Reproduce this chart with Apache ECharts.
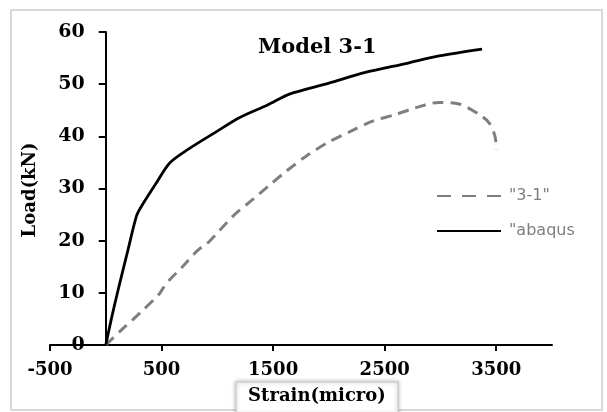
<!DOCTYPE html>
<html>
<head>
<meta charset="utf-8">
<script src="https://cdn.jsdelivr.net/npm/echarts@6/dist/echarts.min.js"></script>
<style>
  html, body { margin: 0; padding: 0; background: #fff; }
  #chart { width: 607px; height: 412px; }
</style>
</head>
<body>
<div id="chart"></div>
<script>
// Load–strain curves for Model 3-1: test measurement vs. Abaqus model
const titleText = 'Model 3-1';
const xAxisName = 'Strain(micro)';
const yAxisName = 'Load(kN)';
const seriesNames = ['"3-1"', '"abaqus'];

// test curve [strain, load]
const testStrain = [0, 141, 305, 484, 514, 573, 692, 812, 886, 931, 1140, 1318, 1460, 1617, 1796, 1990, 2198, 2392, 2601, 2780, 2988, 3167, 3346, 3436, 3489, 3501];
const testLoad   = [0, 2.9, 6.1, 9.9, 10.9, 12.5, 15.1, 17.9, 19.2, 19.9, 24.7, 27.9, 30.5, 33.3, 36.2, 38.8, 41.0, 42.9, 44.2, 45.5, 46.5, 46.2, 44.2, 42.6, 40.0, 37.5];

// Abaqus curve [strain, load]
const abaqusStrain = [0, 50, 111, 200, 275, 320, 454, 573, 737, 1000, 1201, 1450, 1646, 2000, 2318, 2700, 2989, 3373];
const abaqusLoad   = [0, 5.0, 10.6, 18.3, 24.7, 26.6, 31.1, 34.9, 37.5, 41.0, 43.6, 46.0, 48.1, 50.2, 52.2, 54.0, 55.4, 56.7];

const pairs = (xs, ys) => xs.map((x, i) => [x, ys[i]]);

const serif = '"DejaVu Serif", serif';
const X_MIN = -500, X_MAX = 4000;
const GRID_LEFT = 50, GRID_RIGHT = 55;
const chartWidth = 607;
// shift the load axis so it sits on strain = 0
const plotW = chartWidth - GRID_LEFT - GRID_RIGHT;
const yAxisShift = -plotW * (0 - X_MIN) / (X_MAX - X_MIN);

const chart = echarts.init(document.getElementById('chart'));

chart.setOption({
  backgroundColor: '#fff',
  animation: false,
  title: {
    text: titleText,
    left: 253, top: 32,
    textStyle: { fontFamily: serif, fontWeight: 'bold', fontSize: 21, color: '#000' }
  },
  legend: {
    orient: 'vertical',
    left: 431, top: 183,
    itemWidth: 64, itemHeight: 16, itemGap: 19,
    itemStyle: { opacity: 0 },
    textStyle: { fontFamily: '"DejaVu Sans", sans-serif', fontSize: 16, color: '#7f7f7f', padding: [0, 0, 0, 3] },
    data: [
      { name: seriesNames[0], lineStyle: { type: [14, 11] } },
      { name: seriesNames[1] }
    ]
  },
  grid: { left: GRID_LEFT, right: GRID_RIGHT, top: 32, bottom: 67 },
  xAxis: {
    type: 'value',
    min: X_MIN, max: X_MAX, interval: 1000,
    splitLine: { show: false },
    axisLine: { onZero: false, lineStyle: { color: '#000', width: 2 } },
    axisTick: { show: true, length: 6, lineStyle: { color: '#000', width: 2 } },
    axisLabel: {
      showMaxLabel: false, margin: 16, fontFamily: serif, fontWeight: 'bold', fontSize: 18, color: '#000',
      formatter: v => String(v)
    }
  },
  yAxis: {
    type: 'value',
    min: 0, max: 60, interval: 10,
    offset: yAxisShift,
    splitLine: { show: false },
    axisLine: { show: true, onZero: false, lineStyle: { color: '#000', width: 2 } },
    axisTick: { show: true, length: 7, lineStyle: { color: '#000', width: 2 } },
    axisLabel: { margin: 21, fontFamily: serif, fontWeight: 'bold', fontSize: 19, color: '#000' }
  },
  series: [
    {
      name: seriesNames[0],
      type: 'line',
      data: pairs(testStrain, testLoad),
      smooth: 0.3,
      symbol: 'none',
      lineStyle: { color: '#7f7f7f', width: 3, type: [11, 7] },
      itemStyle: { color: '#7f7f7f' }
    },
    {
      name: seriesNames[1],
      type: 'line',
      data: pairs(abaqusStrain, abaqusLoad),
      smooth: 0.3,
      symbol: 'none',
      lineStyle: { color: '#000', width: 2.8 },
      itemStyle: { color: '#000' }
    }
  ],
  graphic: [
    {
      type: 'rect', z: -1,
      shape: { x: 11, y: 10, width: 591, height: 400 },
      style: { fill: 'none', stroke: '#d9d9d9', lineWidth: 2 }
    },
    {
      type: 'rect',
      shape: { x: 236, y: 382, width: 162, height: 32 },
      style: { fill: '#fff', stroke: '#d0d0d0', lineWidth: 1.5, shadowBlur: 4, shadowColor: 'rgba(0,0,0,0.25)' }
    },
    {
      type: 'text',
      x: 317, y: 396,
      style: {
        text: xAxisName, align: 'center', verticalAlign: 'middle',
        font: 'bold 18px "DejaVu Serif", serif', fill: '#000'
      }
    },
    {
      type: 'text',
      x: 30, y: 190, rotation: Math.PI / 2,
      style: {
        text: yAxisName, align: 'center', verticalAlign: 'middle',
        font: 'bold 18px "DejaVu Serif", serif', fill: '#000'
      }
    }
  ]
});
</script>
</body>
</html>
